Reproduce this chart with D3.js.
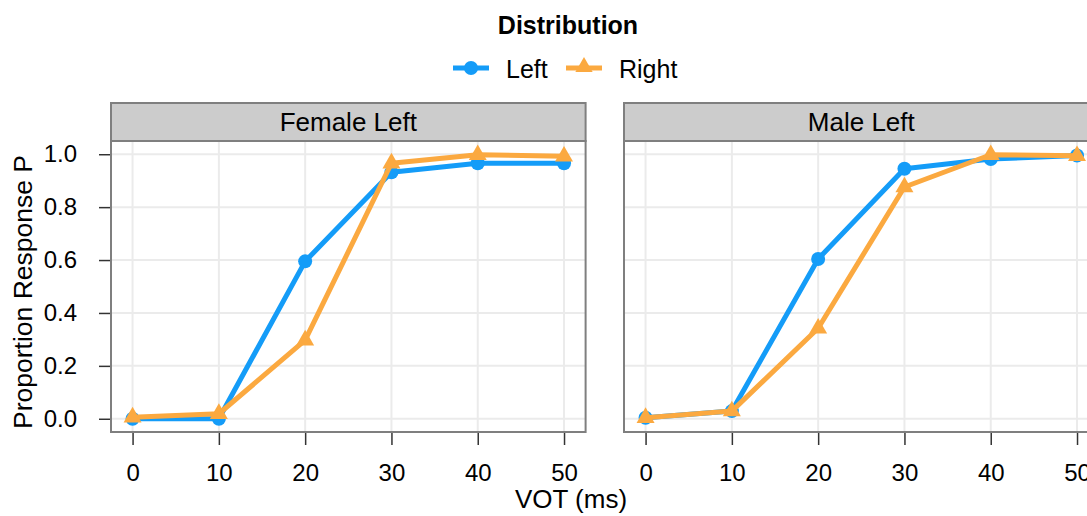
<!DOCTYPE html>
<html><head><meta charset="utf-8">
<script src="https://cdn.jsdelivr.net/npm/d3@7"></script>
<style>body{margin:0;background:#fff}svg{display:block;font-family:"Liberation Sans",Arial,sans-serif}</style>
</head><body>
<svg id="c" width="1087" height="516"></svg>
<script>
const vot = [0, 10, 20, 30, 40, 50];
const panels = ["Female Left", "Male Left"];
const seriesNames = ["Left", "Right"];
const femaleLeft = [0.0, 0.0, 0.595, 0.932, 0.966, 0.966];
const femaleRight = [0.006, 0.019, 0.297, 0.966, 0.998, 0.992];
const maleLeft = [0.004, 0.029, 0.604, 0.945, 0.982, 0.995];
const maleRight = [0.004, 0.029, 0.342, 0.876, 0.998, 0.994];
const yTicks = [0, 0.2, 0.4, 0.6, 0.8, 1.0];
const xTicks = [0, 10, 20, 30, 40, 50];

const colors = {Left: "#149cf8", Right: "#fba940"};
const panelData = [
  {name: panels[0], Left: femaleLeft, Right: femaleRight},
  {name: panels[1], Left: maleLeft, Right: maleRight}
];

const svg = d3.select("#c");
const stripTop = 103, plotTop = 141, plotBottom = 432;
const panelX = [111, 624], panelW = 474.6;
const y = d3.scaleLinear().domain([-0.05, 1.05]).range([plotBottom, plotTop]);
const FONT = "Liberation Sans, Arial, sans-serif";

// legend
svg.append("text").attr("x", 568).attr("y", 34).attr("text-anchor", "middle")
  .attr("font-weight", "bold").attr("font-size", 25).text("Distribution");
const legItems = [{k: "Left", x: 453, tx: 506}, {k: "Right", x: 566, tx: 619}];
legItems.forEach(it => {
  const g = svg.append("g");
  g.append("line").attr("x1", it.x).attr("x2", it.x + 36).attr("y1", 68).attr("y2", 68)
    .attr("stroke", colors[it.k]).attr("stroke-width", 5);
  if (it.k === "Left") g.append("circle").attr("cx", it.x + 18).attr("cy", 68).attr("r", 7).attr("fill", colors[it.k]);
  else g.append("path").attr("d", d3.symbol(d3.symbolTriangle, 130)()).attr("transform", `translate(${it.x + 18},67)`).attr("fill", colors[it.k]);
  g.append("text").attr("x", it.tx).attr("y", 78).attr("font-size", 25).text(it.k);
});

panelData.forEach((pd, i) => {
  const x0 = panelX[i];
  const x = d3.scaleLinear().domain([-2.5, 52.5]).range([x0, x0 + panelW]);
  const g = svg.append("g");
  g.append("rect").attr("x", x0).attr("y", plotTop).attr("width", panelW).attr("height", plotBottom - plotTop).attr("fill", "#fff");
  g.selectAll(".gy").data(yTicks).join("line").attr("x1", x0).attr("x2", x0 + panelW)
    .attr("y1", d => y(d)).attr("y2", d => y(d)).attr("stroke", "#ebebeb").attr("stroke-width", 2);
  g.selectAll(".gx").data(xTicks).join("line").attr("y1", plotTop).attr("y2", plotBottom)
    .attr("x1", d => x(d)).attr("x2", d => x(d)).attr("stroke", "#ebebeb").attr("stroke-width", 2);
  seriesNames.forEach(s => {
    const pts = vot.map((v, j) => [v, pd[s][j]]);
    g.append("path").attr("d", d3.line().x(d => x(d[0])).y(d => y(d[1]))(pts))
      .attr("fill", "none").attr("stroke", colors[s]).attr("stroke-width", 5).attr("stroke-linejoin", "round");
    if (s === "Left") {
      g.selectAll(null).data(pts).join("circle").attr("cx", d => x(d[0])).attr("cy", d => y(d[1]))
        .attr("r", 7).attr("fill", colors[s]);
    } else {
      g.selectAll(null).data(pts).join("path").attr("d", d3.symbol(d3.symbolTriangle, 140)())
        .attr("transform", d => `translate(${x(d[0])},${y(d[1])})`).attr("fill", colors[s]);
    }
  });
  g.append("rect").attr("x", x0).attr("y", plotTop).attr("width", panelW).attr("height", plotBottom - plotTop)
    .attr("fill", "none").attr("stroke", "#7f7f7f").attr("stroke-width", 2);
  g.append("rect").attr("x", x0).attr("y", stripTop).attr("width", panelW).attr("height", plotTop - stripTop)
    .attr("fill", "#cccccc").attr("stroke", "#7f7f7f").attr("stroke-width", 2);
  g.append("text").attr("x", x0 + panelW / 2).attr("y", plotTop - 10).attr("text-anchor", "middle")
    .attr("font-size", 26).text(pd.name);
  const xa = g.append("g").attr("transform", `translate(0,${plotBottom + 1})`)
    .call(d3.axisBottom(x).tickValues(xTicks).tickSize(12).tickPadding(19).tickFormat(d3.format("d")));
  xa.select(".domain").remove();
  xa.selectAll("line").attr("stroke", "#333").attr("stroke-width", 1.5);
  xa.selectAll("text").attr("font-size", 24).attr("fill", "#000").attr("font-family", FONT);
  if (i === 0) {
    const ya = g.append("g").attr("transform", `translate(${x0 - 1},0)`)
      .call(d3.axisLeft(y).tickValues(yTicks).tickSize(11).tickPadding(22).tickFormat(d3.format(".1f")));
    ya.select(".domain").remove();
    ya.selectAll("line").attr("stroke", "#333").attr("stroke-width", 1.5);
    ya.selectAll("text").attr("font-size", 24).attr("fill", "#000").attr("font-family", FONT);
  }
});

svg.append("text").attr("transform", `translate(32,292) rotate(-90)`)
  .attr("text-anchor", "middle").attr("font-size", 26.5).text("Proportion Response P");
svg.append("text").attr("x", 571).attr("y", 508).attr("text-anchor", "middle")
  .attr("font-size", 26).text("VOT (ms)");
</script>
</body></html>
